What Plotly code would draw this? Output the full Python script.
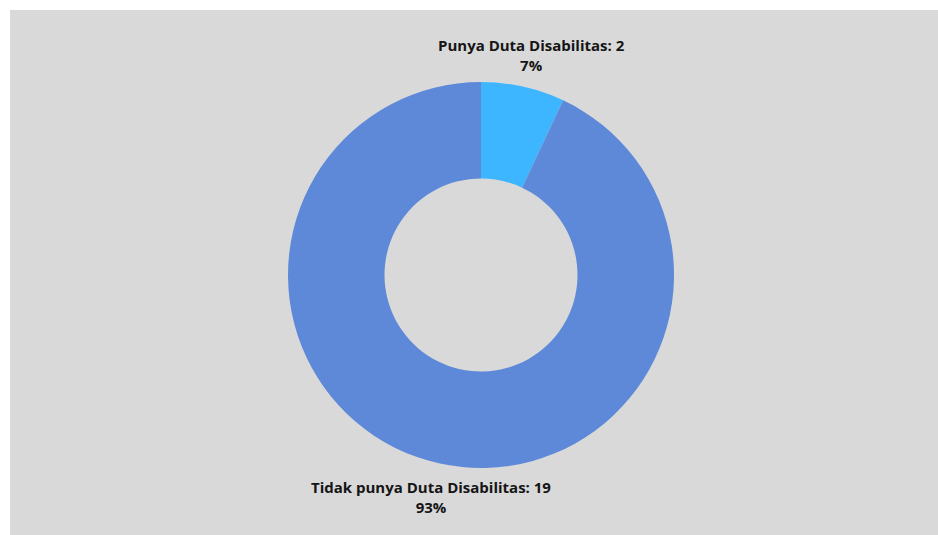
import math
import plotly.graph_objects as go

categories = ["Punya Duta Disabilitas", "Tidak punya Duta Disabilitas"]
counts = [2, 19]
percents = [7, 93]
colors = ["#3db6ff", "#5e88d8"]

W, H = 938, 535
cx, cy, r = 481, 275, 193

fig = go.Figure(go.Pie(
    labels=categories,
    values=percents,
    customdata=counts,
    textinfo="none",
    marker=dict(colors=colors, line=dict(width=0)),
    hole=0.5,
    sort=False,
    direction="clockwise",
    rotation=0,
    showlegend=False,
    hoverinfo="label+value",
    domain=dict(x=[(cx - r) / W, (cx + r) / W], y=[(H - cy - r) / H, (H - cy + r) / H]),
))

# centered labels placed just outside each slice's midpoint
total = sum(percents)
cum = 0
annotations = []
for lab, cnt, pct in zip(categories, counts, percents):
    mid = (cum + pct / 2) / total * 2 * math.pi
    cum += pct
    px = cx + r * math.sin(mid)
    py = cy - r * math.cos(mid)
    up = math.cos(mid) > 0
    annotations.append(dict(
        x=px / W, y=1 - py / H, xref="paper", yref="paper",
        text=f"<b>{lab}: {cnt}</b><br><b>{pct}%</b>",
        showarrow=False, xanchor="center", yanchor="bottom" if up else "top",
        xshift=8 if math.sin(mid) > 0 else -8,
        yshift=10 if up else -12,
        font=dict(family="Open Sans", size=15, color="#151515"),
        align="center",
    ))

fig.update_layout(
    width=W, height=H,
    margin=dict(l=0, r=0, t=0, b=0),
    paper_bgcolor="#ffffff",
    annotations=annotations,
    shapes=[dict(type="rect", xref="paper", yref="paper", x0=10 / W, x1=1.01, y0=-0.01, y1=1 - 10 / H,
                 fillcolor="#d9d9d9", line=dict(width=0), layer="below")],
)

fig.write_html("out.html")
